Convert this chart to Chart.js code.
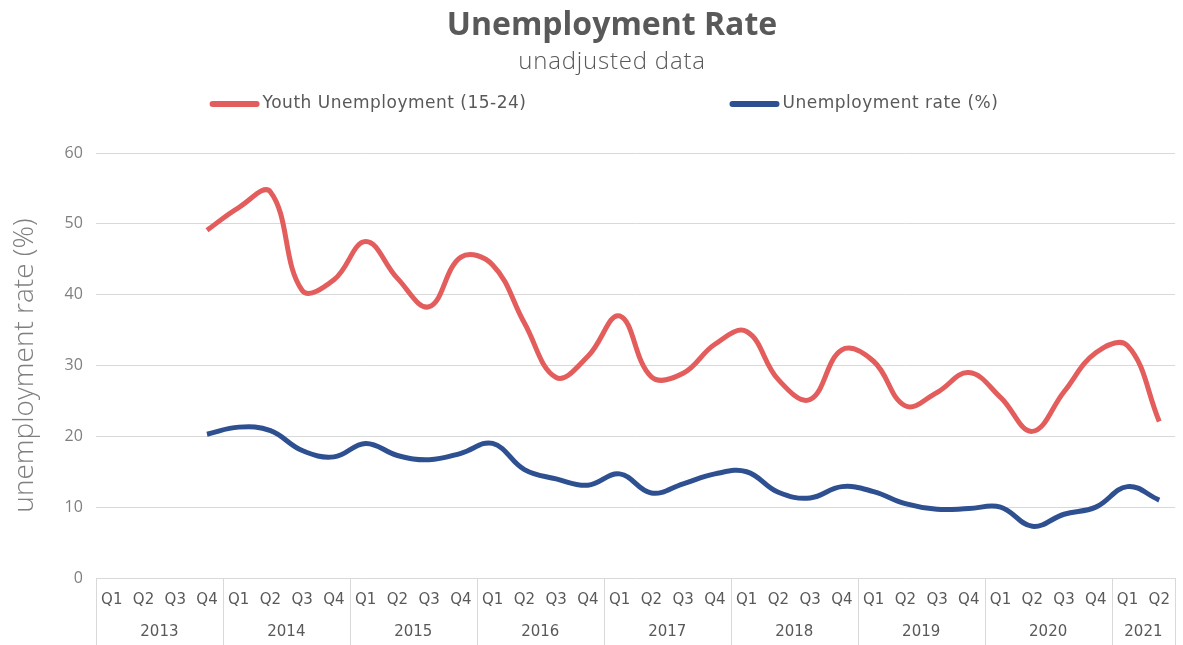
<!DOCTYPE html>
<html>
<head>
<meta charset="utf-8">
<title>Unemployment Rate</title>
<script src="https://cdn.jsdelivr.net/npm/chart.js@4"></script>
<style>
    html, body { margin: 0; padding: 0; background: #fff; }
    #wrap { width: 1183px; height: 645px; }
</style>
</head>
<body>
<div id="wrap"><canvas id="chart-unemployment"></canvas></div>
<script>
const years = ['2013', '2014', '2015', '2016', '2017', '2018', '2019', '2020', '2021'];
const quartersPerYear = [4, 4, 4, 4, 4, 4, 4, 4, 2];
const quarterNames = ['Q1', 'Q2', 'Q3', 'Q4'];

// Youth unemployment (15-24), % — no data before 2013 Q4
const youthRate = [
    null, null, null, 49.1,
    52.3, 54.5, 40.6, 42.1,
    47.5, 42.3, 38.3, 45.3,
    44.2, 36.0, 28.3, 31.3,
    37.0, 28.4, 28.9, 33.0,
    34.8, 28.0, 25.2, 32.2,
    30.6, 24.3, 26.2, 29.0,
    25.5, 20.7, 26.3, 31.8,
    32.8, 22.1
];

// Overall unemployment rate, %
const totalRate = [
    null, null, null, 20.3,
    21.3, 20.8, 18.0, 17.1,
    19.0, 17.3, 16.7, 17.6,
    19.0, 15.3, 14.0, 13.1,
    14.7, 12.0, 13.3, 14.7,
    15.0, 12.1, 11.3, 12.9,
    12.2, 10.5, 9.7, 9.8,
    10.0, 7.3, 9.0, 10.0,
    12.9, 11.0
];

const yTicks = [0, 10, 20, 30, 40, 50, 60];

const GREY_TEXT = '#7f7f7f';
const DARK_TEXT = '#595959';
const GRID = '#d9d9d9';

// quarter labels and year group centres (in category units)
const quarterLabels = [];
const yearCentres = [];
quartersPerYear.forEach((n, yi) => {
    const start = quarterLabels.length;
    for (let q = 0; q < n; q++) quarterLabels.push(quarterNames[q]);
    yearCentres.push({value: start + (n - 1) / 2, label: years[yi]});
});

// table-like lines under the plot: left/right edges and year separators
const axisTable = {
    id: 'axisTable',
    afterDraw(chart) {
        const x = chart.scales.x;
        const ctx = chart.ctx;
        const half = (x.getPixelForValue(1) - x.getPixelForValue(0)) / 2;
        const top = chart.chartArea.bottom;
        const bottom = chart.height;
        ctx.save();
        ctx.strokeStyle = GRID;
        ctx.lineWidth = 1;
        let idx = 0;
        const bounds = [0];
        quartersPerYear.forEach(n => { idx += n; bounds.push(idx); });
        bounds.forEach(b => {
            const px = Math.round(x.getPixelForValue(b) - half) + 0.5;
            ctx.beginPath();
            ctx.moveTo(px, top);
            ctx.lineTo(px, bottom);
            ctx.stroke();
        });
        ctx.restore();
    }
};

// title, subtitle and a single-row legend with wide spacing between entries
const header = {
    id: 'header',
    afterDraw(chart, args, opts) {
        const ctx = chart.ctx;
        ctx.save();
        ctx.textBaseline = 'middle';
        ctx.textAlign = 'center';
        ctx.fillStyle = DARK_TEXT;
        ctx.font = opts.titleFont;
        ctx.fillText(opts.title, opts.centerX, opts.titleY);
        ctx.font = opts.subtitleFont;
        ctx.letterSpacing = '0.8px';
        ctx.fillText(opts.subtitle, opts.centerX, opts.subtitleY);

        const sets = chart.data.datasets;
        ctx.font = opts.legendFont;
        ctx.letterSpacing = '0.5px';
        const sample = 50, textGap = 3, itemGap = 203;
        const widths = sets.map(ds => sample + textGap + ctx.measureText(ds.label).width);
        const total = widths.reduce((a, b) => a + b, 0) + itemGap * (sets.length - 1);
        let cx = opts.legendCenterX - total / 2;
        const cy = opts.legendY;
        ctx.textAlign = 'left';
        sets.forEach((ds, i) => {
            ctx.strokeStyle = ds.borderColor;
            ctx.lineWidth = 6;
            ctx.lineCap = 'round';
            ctx.beginPath();
            ctx.moveTo(cx + 3, cy);
            ctx.lineTo(cx + sample - 3, cy);
            ctx.stroke();
            ctx.fillText(ds.label, cx + sample + textGap, cy);
            cx += widths[i] + itemGap;
        });
        ctx.restore();
    }
};

function makeChart(ctx) {
    return new Chart(ctx, {
        type: 'line',
        data: {
            labels: quarterLabels,
            datasets: [
                {
                    label: 'Youth Unemployment (15-24)',
                    data: youthRate,
                    borderColor: '#e35d5d',
                    borderWidth: 5,
                    tension: 0.4,
                    pointRadius: 0,
                    fill: false,
                },
                {
                    label: 'Unemployment rate (%)',
                    data: totalRate,
                    borderColor: '#2e5090',
                    borderWidth: 5,
                    tension: 0.4,
                    pointRadius: 0,
                    fill: false,
                }
            ]
        },
        plugins: [axisTable, header],
        options: {
            responsive: true,
            maintainAspectRatio: false,
            animation: false,
            layout: {padding: {left: 8, right: 5, top: 153, bottom: 3}},
            plugins: {
                legend: {display: false},
                tooltip: {enabled: false},
                header: {
                    title: 'Unemployment Rate',
                    subtitle: 'unadjusted data',
                    titleFont: 'bold 32px "Open Sans"',
                    subtitleFont: '300 24px "Open Sans"',
                    legendFont: '17px "DejaVu Sans"',
                    centerX: 612,
                    titleY: 26,
                    subtitleY: 62,
                    legendCenterX: 604,
                    legendY: 104
                }
            },
            scales: {
                y: {
                    min: 0,
                    max: 60,
                    afterBuildTicks: axis => { axis.ticks = yTicks.map(v => ({value: v})); },
                    grid: {color: GRID, drawTicks: false},
                    border: {display: false},
                    ticks: {color: GREY_TEXT, font: {family: 'Open Sans', size: 16}, padding: 13},
                    title: {
                        display: true,
                        text: 'unemployment rate (%)',
                        color: GREY_TEXT,
                        font: {family: 'Open Sans', size: 28, weight: 300},
                        padding: {top: 0, bottom: 10}
                    }
                },
                x: {
                    type: 'category',
                    offset: true,
                    grid: {display: false, drawTicks: false},
                    border: {display: false},
                    ticks: {
                        color: DARK_TEXT,
                        font: {family: 'DejaVu Sans', size: 15},
                        maxRotation: 0,
                        autoSkip: false,
                        padding: 13
                    }
                },
                year: {
                    type: 'linear',
                    position: 'bottom',
                    min: -0.5,
                    max: quarterLabels.length - 0.5,
                    afterBuildTicks: axis => { axis.ticks = yearCentres.map(c => ({value: c.value})); },
                    grid: {display: false, drawTicks: false},
                    border: {display: false},
                    ticks: {
                        color: DARK_TEXT,
                        font: {family: 'DejaVu Sans', size: 15},
                        maxRotation: 0,
                        autoSkip: false,
                        padding: 1,
                        callback: v => (yearCentres.find(c => c.value === v) || {}).label
                    }
                }
            }
        }
    });
}

makeChart(document.getElementById('chart-unemployment').getContext('2d'));
</script>
</body>
</html>
